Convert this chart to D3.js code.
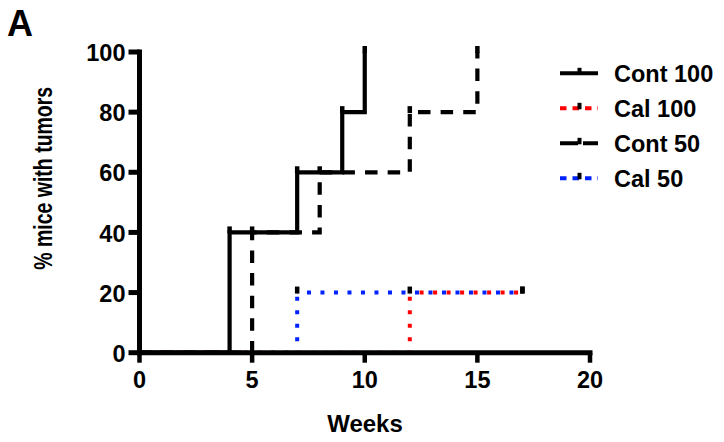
<!DOCTYPE html>
<html>
<head>
<meta charset="utf-8">
<script src="https://cdn.jsdelivr.net/npm/d3@7/dist/d3.min.js"></script>
<style>
  html, body { margin: 0; padding: 0; background: #fff; }
  svg { display: block; }
  text { font-family: "Liberation Sans", Arial, Helvetica, sans-serif; font-weight: bold; fill: #000; }
</style>
</head>
<body>
<svg id="chart" width="724" height="442"></svg>
<script>
// ---- data ----
const xTicks = [0, 5, 10, 15, 20];
const yTicks = [0, 20, 40, 60, 80, 100];
const seriesNames = ["Cont 100", "Cal 100", "Cont 50", "Cal 50"];
const cont100Weeks = [0, 4, 7, 9, 10];
const cont100Pct   = [0, 40, 60, 80, 100];
const cal100Weeks  = [0, 12, 17];
const cal100Pct    = [0, 20, 20];
const cont50Weeks  = [0, 5, 8, 12, 15];
const cont50Pct    = [0, 40, 60, 80, 100];
const cal50Weeks   = [0, 7, 17];
const cal50Pct     = [0, 20, 20];

const series = [
  { name: seriesNames[0], weeks: cont100Weeks, pct: cont100Pct, color: "#000", style: "solid" },
  { name: seriesNames[1], weeks: cal100Weeks,  pct: cal100Pct,  color: "#ff0000", style: "dot" },
  { name: seriesNames[2], weeks: cont50Weeks,  pct: cont50Pct,  color: "#000", style: "dash" },
  { name: seriesNames[3], weeks: cal50Weeks,   pct: cal50Pct,   color: "#0022ff", style: "dot" }
];

const svg = d3.select("#chart");
const x = d3.scaleLinear().domain([0, 20]).range([139.5, 590]);
const y = d3.scaleLinear().domain([0, 100]).range([352.7, 52]);

const curves = svg.append("g");
const line = d3.line().x(d => x(d[0])).y(d => y(d[1])).curve(d3.curveStepAfter);

// draw order: dashed black, solid black, then colored dotted
const order = [2, 0, 3, 1];
order.forEach(i => {
  const s = series[i];
  const pts = s.weeks.map((w, k) => [w, s.pct[k]]);
  if (s.style === "solid") {
    curves.append("path").attr("d", line(pts)).attr("fill", "none")
      .attr("stroke", s.color).attr("stroke-width", 4.2).attr("stroke-linejoin", "miter");
  } else if (s.style === "dash") {
    curves.append("path").attr("d", line(pts)).attr("fill", "none")
      .attr("stroke", s.color).attr("stroke-width", 4.2)
      .attr("stroke-dasharray", "12.5,10.12").attr("stroke-dashoffset", 1.2);
  } else {
    // dotted: each step segment drawn on its own (horizontal, then vertical rise)
    for (let k = 1; k < pts.length; k++) {
      const p0 = pts[k - 1], p1 = pts[k];
      curves.append("line")
        .attr("x1", x(p0[0])).attr("y1", y(p0[1])).attr("x2", x(p1[0])).attr("y2", y(p0[1]))
        .attr("stroke", s.color).attr("stroke-width", 4)
        .attr("stroke-dasharray", "4,9.5").attr("stroke-dashoffset", 3.7);
      if (p1[1] !== p0[1]) {
        curves.append("line")
          .attr("x1", x(p1[0])).attr("y1", y(p0[1])).attr("x2", x(p1[0])).attr("y2", y(p1[1]))
          .attr("stroke", s.color).attr("stroke-width", 4)
          .attr("stroke-dasharray", "4,9.5").attr("stroke-dashoffset", 2);
      }
    }
  }
});

// event / censor tick marks (black, above each step)
series.forEach(s => {
  s.weeks.forEach((w, k) => {
    if (k === 0) return;
    curves.append("line")
      .attr("x1", x(w)).attr("x2", x(w))
      .attr("y1", y(s.pct[k]) + 1).attr("y2", y(s.pct[k]) - 6)
      .attr("stroke", "#000").attr("stroke-width", 4.5);
  });
});

// ---- axes ----
const yAxis = d3.axisLeft(y).tickValues(yTicks).tickSize(11).tickSizeOuter(0).tickPadding(3).offset(0);
const gy = svg.append("g").attr("transform", `translate(${x(0)},0)`).call(yAxis);
gy.select(".domain").attr("stroke", "#000").attr("stroke-width", 5).attr("stroke-linecap", "square");
gy.selectAll(".tick line").attr("stroke", "#000").attr("stroke-width", 5);
gy.selectAll(".tick text").attr("font-size", 23.5).attr("dy", "0.39em")
  .style("font-family", '"Liberation Sans", Arial, sans-serif').style("font-weight", "bold").attr("fill", "#000");

const xAxis = d3.axisBottom(x).tickValues(xTicks).tickSize(10).tickSizeOuter(0).tickPadding(3).offset(0);
const gx = svg.append("g").attr("transform", `translate(0,${y(0)})`).call(xAxis);
gx.select(".domain").attr("stroke", "#000").attr("stroke-width", 5).attr("stroke-linecap", "square");
gx.selectAll(".tick line").attr("stroke", "#000").attr("stroke-width", 4.5);
gx.selectAll(".tick text").attr("font-size", 23.5).attr("y", 35.3).attr("dy", 0)
  .style("font-family", '"Liberation Sans", Arial, sans-serif').style("font-weight", "bold").attr("fill", "#000");

// ---- titles ----
svg.append("text").attr("x", 365).attr("y", 431.5).attr("text-anchor", "middle")
  .attr("font-size", 24).text("Weeks");
svg.append("text").attr("transform", "translate(52,178.3) rotate(-90)").attr("text-anchor", "middle")
  .attr("font-size", 25.5).attr("textLength", 183).attr("lengthAdjust", "spacingAndGlyphs")
  .text("% mice with tumors");
svg.append("text").attr("x", 7).attr("y", 36).attr("font-size", 36).text("A");

// ---- legend ----
const legend = svg.append("g");
const rowY = [73.3, 108.3, 143.3, 178.3];
series.forEach((s, i) => {
  const ly = rowY[i];
  const l = legend.append("line").attr("x1", 560).attr("x2", 598).attr("y1", ly).attr("y2", ly)
    .attr("stroke", s.color).attr("stroke-width", 4);
  if (s.style === "dot") l.attr("stroke-dasharray", "6.5,6");
  if (s.style === "dash") l.attr("stroke-dasharray", "18,5");
  legend.append("line").attr("x1", 579.5).attr("x2", 579.5).attr("y1", ly + 1).attr("y2", ly - 5.5)
    .attr("stroke", "#000").attr("stroke-width", 4);
  legend.append("text").attr("x", 614).attr("y", ly + 8.3).attr("font-size", 23.5).text(s.name);
});
</script>
</body>
</html>
